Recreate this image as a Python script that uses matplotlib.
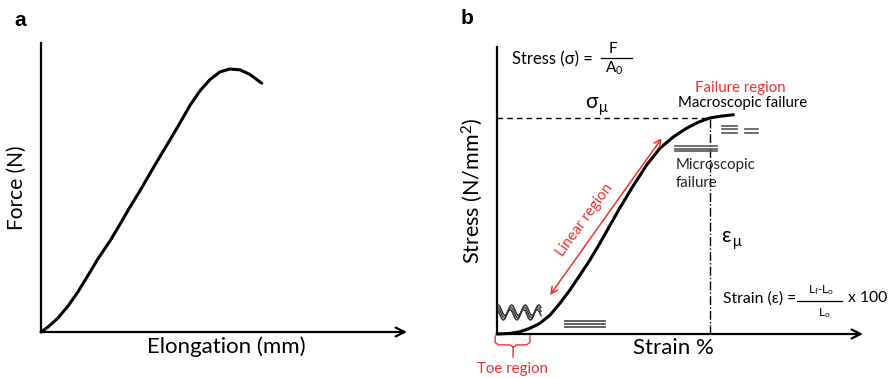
import numpy as np
import matplotlib
matplotlib.use('Agg')
import matplotlib.pyplot as plt

plt.rcParams['font.family'] = ['Lato', 'Noto Sans', 'DejaVu Sans']
plt.rcParams['mathtext.fontset'] = 'custom'
plt.rcParams['mathtext.rm'] = 'Lato'
plt.rcParams['mathtext.it'] = 'Lato'

# panel a: force vs elongation (arbitrary units, 0-100)
elong = [0, 1.9, 4.6, 7.4, 10.1, 12.8, 15.6, 18.9, 21.6, 24.3, 27.1, 29.8,
         32.5, 35.3, 38.0, 40.7, 43.4, 46.2, 48.9, 51.6, 54.4, 57.1, 60.3]
force = [0, 1.7, 4.8, 9.0, 13.9, 19.5, 25.4, 31.6, 37.3, 43.2, 49.0, 54.9,
         60.7, 66.6, 72.4, 78.4, 83.4, 87.4, 90.0, 91.0, 90.7, 89.1, 86.1]

# panel b: stress vs strain (arbitrary units, 0-100)
strain = [0, 3.6, 6.3, 9.0, 11.7, 14.5, 17.2, 19.9, 22.7, 25.4, 28.1, 30.4,
          33.6, 37.2, 40.9, 44.5, 48.2, 51.8, 55.0, 58.2, 61.2, 64.6]
stress = [0, 0.2, 0.8, 2.0, 3.7, 6.6, 10.7, 15.3, 20.6, 25.8, 31.6, 36.8,
          44.0, 51.6, 58.9, 64.7, 68.7, 71.7, 73.8, 75.3, 75.9, 76.4]
sigma_u = 75.3      # ultimate stress level
eps_u = 58.2        # strain at ultimate stress

RED = '#ee3030'
GREY = '#555555'

fig = plt.figure(figsize=(8.95, 3.78), dpi=100)
W, H = 895., 378.


def panel(left, top, right, bottom):
    ax = fig.add_axes([left / W, 1 - bottom / H, (right - left) / W, (bottom - top) / H])
    ax.set_xlim(0, 100)
    ax.set_ylim(0, 100)
    ax.axis('off')
    # axes drawn by hand: plain y axis, arrowed x axis
    ax.plot([0, 0], [0, 1], color='black', lw=1.6, transform=ax.transAxes, clip_on=False)
    ax.annotate('', xy=(1, 0), xytext=(0, 0), xycoords='axes fraction',
                arrowprops=dict(arrowstyle='->', lw=1.6, color='black',
                                mutation_scale=16, shrinkA=0, shrinkB=0))
    return ax


# ---- panel a ----
ax_a = panel(41, 43, 407, 332)
ax_a.plot(elong, force, color='black', lw=2.2, clip_on=False,
          solid_joinstyle='round', solid_capstyle='round')
ax_a.text(-0.066, 0.50, 'Force (N)', rotation=90, ha='center', va='center',
          fontsize=15, transform=ax_a.transAxes)
ax_a.text(0.505, -0.052, 'Elongation (mm)', ha='center', va='center',
          fontsize=16, transform=ax_a.transAxes)
fig.text(20 / W, 1 - 21 / H, 'a', fontsize=15, fontweight='bold',
         family='Liberation Sans', ha='center', va='center')

# ---- panel b ----
ax_b = panel(497, 47, 863, 334)
ax_b.plot(strain, stress, color='black', lw=2.2, clip_on=False,
          solid_joinstyle='round', solid_capstyle='round')
ax_b.plot([0, eps_u], [sigma_u, sigma_u], color='black', lw=1.0, ls=(0, (4, 3)))
ax_b.plot([eps_u, eps_u], [0, sigma_u], color='black', lw=1.0, ls='-.')
ax_b.text(-0.068, 0.498, 'Stress (N/mm$^2$)', rotation=90, ha='center', va='center',
          fontsize=15.5, transform=ax_b.transAxes)
ax_b.text(0.481, -0.049, 'Strain %', ha='center', va='center',
          fontsize=16, transform=ax_b.transAxes)
fig.text(467 / W, 1 - 18 / H, 'b', fontsize=15, fontweight='bold',
         family='Liberation Sans', ha='center', va='center')

# stress formula
ax_b.text(4.1, 95.8, 'Stress (σ) =', fontsize=12, ha='left', va='center')
ax_b.text(31.6, 99.4, 'F', fontsize=11, ha='center', va='center')
ax_b.plot([28.4, 36.9], [96.3, 96.3], color='black', lw=0.9)
ax_b.text(32.0, 92.6, 'A$_0$', fontsize=11, ha='center', va='center')

# sigma_u / eps_u
ax_b.text(24.0, 80.8, 'σ', fontsize=15, ha='left', va='center')
ax_b.text(27.8, 78.8, 'μ', fontsize=10.5, ha='left', va='center')
ax_b.text(61.3, 34.0, 'ε', fontsize=15, ha='left', va='center')
ax_b.text(64.6, 32.0, 'μ', fontsize=10.5, ha='left', va='center')

# failure labels
ax_b.text(66.4, 85.6, 'Failure region', fontsize=10.8, color=RED, ha='center', va='center')
ax_b.text(67.2, 80.6, 'Macroscopic failure', fontsize=10.8, ha='center', va='center')
ax_b.text(48.9, 55.8, 'Microscopic\nfailure', fontsize=10.8, ha='left', va='center',
          linespacing=1.35, color='#222222')

# strain formula
ax_b.text(61.7, 12.5, 'Strain (ε) =', fontsize=11.3, ha='left', va='center')
ax_b.text(88.6, 15.3, 'L$_f$-L$_o$', fontsize=8.5, ha='center', va='center')
ax_b.plot([82.0, 94.3], [11.6, 11.6], color='black', lw=0.9)
ax_b.text(89.4, 7.3, 'L$_o$', fontsize=8.5, ha='center', va='center')
ax_b.text(95.9, 12.5, 'x 100', fontsize=11.3, ha='left', va='center')

# linear region arrow
ax_b.annotate('', xy=(45.0, 68.2), xytext=(14.5, 13.6),
              arrowprops=dict(arrowstyle='<->', color=RED, lw=1.1,
                              mutation_scale=12, shrinkA=0, shrinkB=0))
ax_b.text(24.0, 39.7, 'Linear region', fontsize=10.8, color=RED, rotation=54,
          rotation_mode='anchor', ha='center', va='center')

# crimped fibres in toe region
wave_x = np.linspace(0.3, 12.0, 90)
for dy, ph, c in [(0.8, 0.0, '#333333'), (0.0, 0.35, '#444444'), (-0.8, 0.7, '#333333')]:
    ax_b.plot(wave_x, 7.5 + dy + 1.8 * np.sin((wave_x - 0.3) / 3.7 * 2 * np.pi + ph + np.pi / 2),
              color=c, lw=1.1)

# straightened fibrils
for y in [4.4, 3.5, 2.6]:
    ax_b.plot([18.6, 29.5], [y, y], color=GREY, lw=1.3)
# microscopic failure fibrils
for y in [65.5, 64.6, 63.6]:
    ax_b.plot([48.6, 60.1], [y, y], color=GREY, lw=1.2)
# macroscopic failure broken fibrils
for y in [72.5, 71.3, 70.0]:
    ax_b.plot([61.5, 65.6], [y, y], color=GREY, lw=1.2)
for y in [71.3, 70.0]:
    ax_b.plot([67.8, 71.3], [y, y], color=GREY, lw=1.2)

# toe region bracket
bx = [-0.5, -0.5, 0.5, 3.6, 4.4, 4.4]
by = [-0.7, -3.0, -3.8, -3.8, -4.6, -8.0]
ax_b.plot(bx, by, color=RED, lw=1.0, clip_on=False)
ax_b.plot([9.0, 9.0, 8.0, 5.2, 4.4], [-0.7, -3.0, -3.8, -3.8, -4.6], color=RED, lw=1.0,
          clip_on=False)
ax_b.text(4.1, -12.3, 'Toe region', fontsize=10.8, color=RED, ha='center', va='center')

fig.savefig('out.png', dpi=100)
